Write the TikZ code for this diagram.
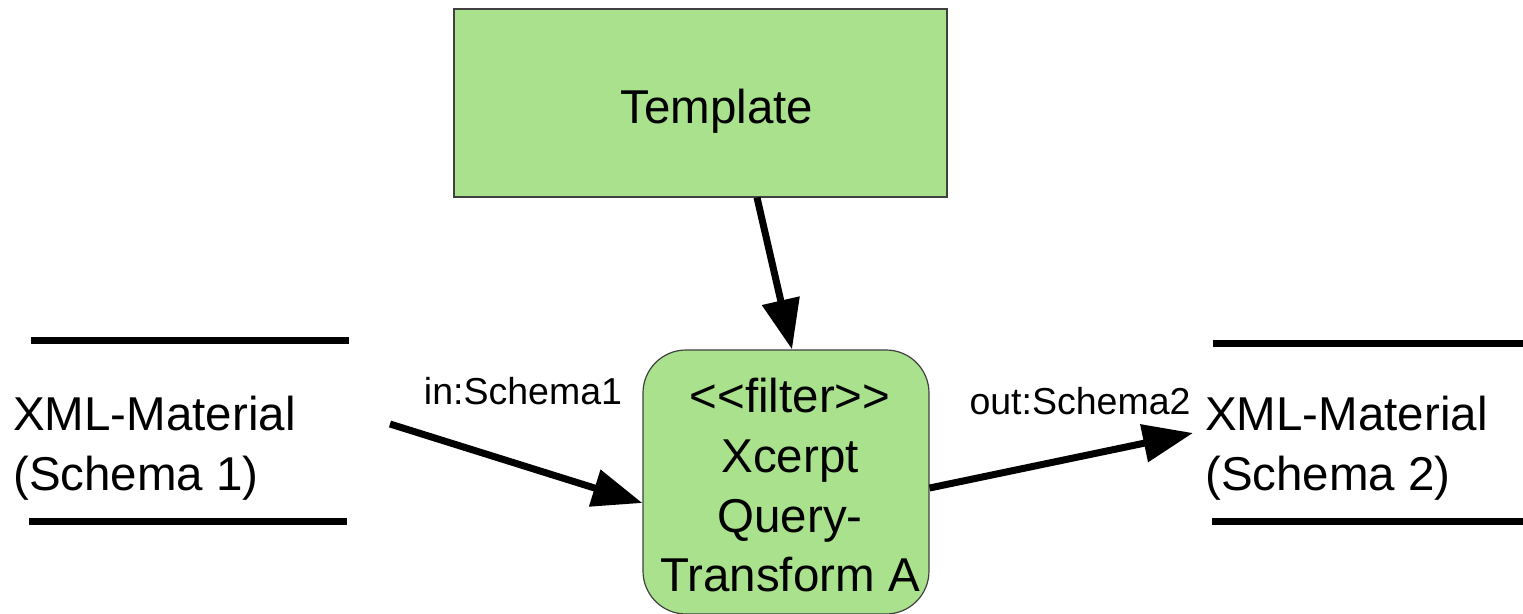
\documentclass[tikz,border=0pt]{standalone}
\usepackage{fontspec}
\setmainfont{Liberation Sans}
\newfontfamily\lsans{Liberation Sans}
\usetikzlibrary{arrows.meta}
\definecolor{boxgreen}{RGB}{169,225,140}
\begin{document}
\begin{tikzpicture}[x=1pt,y=-1pt,
  big/.style={font=\lsans\fontsize{47.5}{59.7}\selectfont, inner sep=0pt},
  lbl/.style={font=\lsans\fontsize{37.5}{44}\selectfont, inner sep=0pt},
  greenbox/.style={draw=black!75, fill=boxgreen, line width=1.2pt, inner sep=0pt},
  conn/.style={line width=7pt, -{Triangle[length=50pt,width=37pt]}},
  docline/.style={line width=7pt}]
\useasboundingbox (0,0) rectangle (1523,613);
% template
\node[greenbox, minimum width=493pt, minimum height=188pt] (tpl) at (700.5,103) {};
\node[big, anchor=base] (tplText) at (717,123) {Template};
% filter
\node[greenbox, rounded corners=43pt, minimum width=286pt, minimum height=264pt] (flt) at (786,482) {};
\node[big, align=center, anchor=south, text depth=0pt] (fltText) at (790,592)
  {<<filter>>\\Xcerpt\\Query-\\Transform A};
% documents
\draw[docline] (31,340) -- (349,340);
\draw[docline] (29,521) -- (347,521);
\node[big, align=left, anchor=base west] (doc1) at (13,490) {XML-Material\\(Schema 1)};
\draw[docline] (1213,343) -- (1523,343);
\draw[docline] (1212,521) -- (1523,521);
\node[big, align=left, anchor=base west] (doc2) at (1205,490) {XML-Material\\(Schema 2)};
% connectors
\coordinate (inStart) at (390,424);
\coordinate (outEnd) at (1193,433);
\draw[conn] (tpl.south -| 757,0) -- (flt.north -| 792,0);
\draw[conn] (inStart) -- (flt.west |- 0,503);
\draw[conn] (flt.east |- 0,488) -- (outEnd);
% labels
\node[lbl, anchor=base] (inlbl) at (523,404) {in:Schema1};
\node[lbl, anchor=base] (outlbl) at (1080,414) {out:Schema2};
\end{tikzpicture}
\end{document}
